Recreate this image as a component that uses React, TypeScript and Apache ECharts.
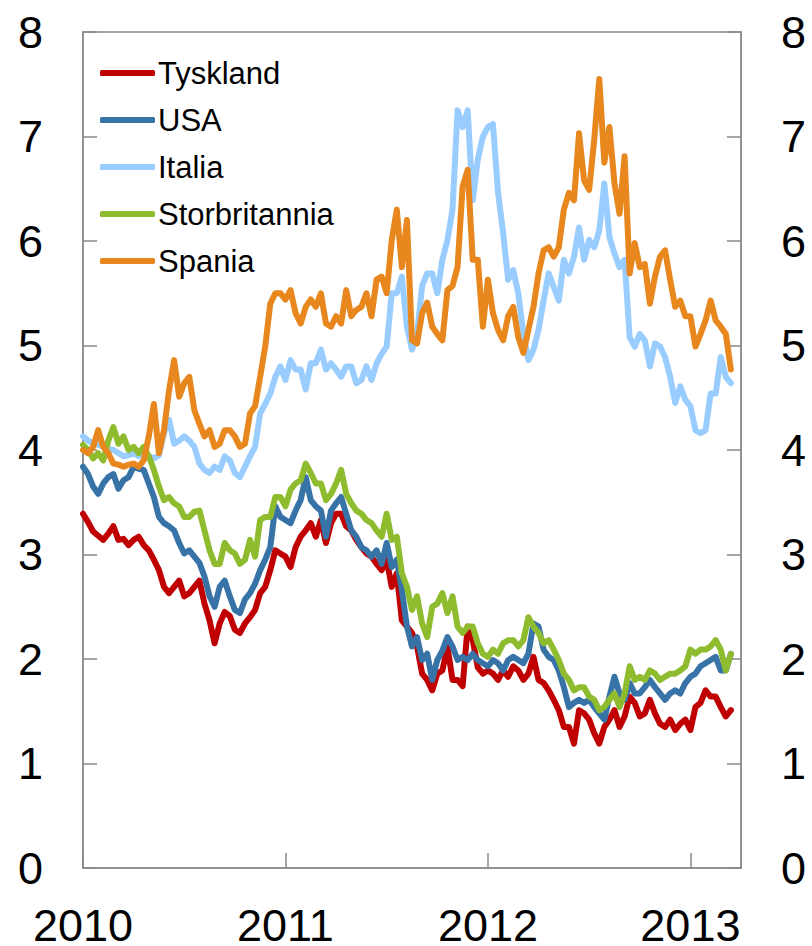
import React, { useEffect, useRef } from "react";
import * as echarts from "echarts";

// Sampling grid: one observation every STEP years starting at START_YEAR
const START_YEAR = 2010;
const STEP = 0.025;

const seriesNames = ["Tyskland", "USA", "Italia", "Storbritannia", "Spania"];
const seriesColors = ["#C00000", "#3873A8", "#99CCFF", "#8FBC2F", "#E8871E"];
const yTicks = [0, 1, 2, 3, 4, 5, 6, 7, 8];
const xTickYears = [2010, 2011, 2012, 2013];
const X_MAX = 2013.25;

const tyskland = [
  3.39, 3.31, 3.22, 3.18, 3.14, 3.20, 3.27, 3.14, 3.15, 3.09, 3.14, 3.17, 3.09, 3.04, 2.95, 2.85, 2.69, 2.63, 2.69, 2.75,
  2.60, 2.63, 2.69, 2.75, 2.53, 2.37, 2.15, 2.34, 2.45, 2.41, 2.28, 2.25, 2.34, 2.40, 2.47, 2.63, 2.69, 2.85, 3.04,
  3.01, 2.98, 2.88, 3.07, 3.17, 3.23, 3.30, 3.17, 3.33, 3.11, 3.30, 3.39, 3.39, 3.27, 3.23, 3.14, 3.07, 3.01, 2.98, 2.91,
  2.85, 2.95, 2.69, 2.82, 2.37, 2.31, 2.25, 2.12, 1.86, 1.80, 1.70, 1.86, 1.89, 2.12, 1.80, 1.80, 1.74, 2.31, 2.18, 1.92,
  1.86, 1.89, 1.86, 1.80, 1.89, 1.83, 1.93, 1.89, 1.80, 1.86, 2.02, 1.80, 1.77, 1.70, 1.61, 1.51, 1.35, 1.35, 1.19, 1.51,
  1.48, 1.42, 1.29, 1.19, 1.35, 1.42, 1.51, 1.35, 1.45, 1.64, 1.58, 1.45, 1.48, 1.61, 1.48, 1.38, 1.35, 1.42, 1.32, 1.38,
  1.42, 1.32, 1.54, 1.58, 1.70, 1.64, 1.64, 1.54, 1.45, 1.51,
];

const usa = [
  3.84, 3.77, 3.65, 3.58, 3.68, 3.74, 3.77, 3.63, 3.71, 3.74, 3.84, 3.82, 3.81, 3.68, 3.55, 3.36, 3.30, 3.27, 3.23, 3.11,
  3.01, 3.04, 2.98, 2.92, 2.79, 2.60, 2.50, 2.69, 2.75, 2.60, 2.47, 2.44, 2.57, 2.63, 2.72, 2.85, 2.95, 3.07, 3.46,
  3.36, 3.33, 3.30, 3.42, 3.52, 3.74, 3.52, 3.46, 3.42, 3.17, 3.42, 3.49, 3.55, 3.39, 3.23, 3.17, 3.07, 3.04, 2.98, 3.04,
  2.91, 3.11, 2.88, 2.95, 2.66, 2.31, 2.12, 2.21, 1.99, 2.05, 1.80, 1.99, 2.08, 2.21, 2.12, 1.99, 2.02, 1.99, 2.05, 1.99,
  1.96, 1.93, 1.99, 1.96, 1.89, 1.99, 2.02, 1.99, 1.96, 2.05, 2.34, 2.31, 2.09, 2.02, 1.99, 1.89, 1.73, 1.54, 1.58, 1.61,
  1.58, 1.61, 1.54, 1.48, 1.42, 1.64, 1.83, 1.67, 1.61, 1.77, 1.67, 1.67, 1.73, 1.80, 1.73, 1.67, 1.61, 1.67, 1.70, 1.67,
  1.77, 1.83, 1.86, 1.93, 1.96, 1.99, 2.02, 1.89, 1.89, 2.05,
];

const italia = [
  4.13, 4.09, 4.06, 4.05, 4.03, 4.01, 4.00, 3.97, 3.94, 3.95, 3.97, 3.94, 3.97, 3.94, 3.92, 3.95, 4.16, 4.29, 4.06, 4.09,
  4.13, 4.09, 4.03, 3.87, 3.81, 3.78, 3.84, 3.81, 3.94, 3.90, 3.78, 3.74, 3.84, 3.94, 4.03, 4.35, 4.44, 4.54, 4.70,
  4.80, 4.67, 4.86, 4.77, 4.77, 4.58, 4.83, 4.83, 4.96, 4.77, 4.83, 4.77, 4.70, 4.80, 4.80, 4.64, 4.67, 4.80, 4.67, 4.83,
  4.92, 4.99, 5.50, 5.50, 5.66, 5.18, 4.96, 5.11, 5.57, 5.69, 5.69, 5.50, 5.82, 6.01, 6.30, 7.25, 7.09, 7.25, 6.39, 6.78,
  7.00, 7.09, 7.12, 6.46,
  6.08, 5.63, 5.72, 5.50, 5.11, 4.86, 4.96, 5.15, 5.43, 5.69, 5.56, 5.43, 5.82, 5.69, 5.85, 6.13, 5.82, 6.01, 5.94, 6.10,
  6.55, 6.04, 5.88, 5.75, 5.82, 5.08, 4.99, 5.11, 5.05, 4.80, 5.02, 4.99, 4.89, 4.70, 4.45, 4.61, 4.48, 4.42, 4.19, 4.16,
  4.19, 4.54, 4.54, 4.89, 4.70, 4.64,
];

const storbritannia = [
  4.05, 4.00, 3.92, 3.97, 3.90, 4.09, 4.22, 4.06, 4.13, 4.00, 4.03, 3.97, 4.03, 3.94, 3.81, 3.65, 3.52, 3.55, 3.49, 3.46,
  3.36, 3.36, 3.41, 3.42, 3.23, 3.04, 2.91, 2.91, 3.11, 3.04, 3.01, 2.91, 2.95, 3.14, 2.98, 3.33, 3.36, 3.36, 3.55,
  3.55, 3.46, 3.62, 3.68, 3.71, 3.87, 3.78, 3.68, 3.68, 3.52, 3.58, 3.68, 3.81, 3.58, 3.49, 3.42, 3.39, 3.33, 3.30, 3.23,
  3.17, 3.39, 3.14, 3.17, 2.82, 2.69, 2.47, 2.60, 2.34, 2.21, 2.50, 2.53, 2.63, 2.44, 2.60, 2.31, 2.25, 2.31, 2.31, 2.15,
  2.05, 2.02, 2.09, 2.05, 2.15, 2.18, 2.18, 2.12, 2.18, 2.40, 2.31, 2.25, 2.15, 2.18, 2.09, 1.99, 1.86, 1.80, 1.70, 1.73,
  1.73, 1.64, 1.61, 1.51, 1.54, 1.61, 1.67, 1.54, 1.67, 1.93, 1.80, 1.83, 1.80, 1.89, 1.86, 1.80, 1.83, 1.86, 1.86, 1.89,
  1.93, 2.09, 2.05, 2.09, 2.09, 2.12, 2.18, 2.09, 1.89, 2.05,
];

const spania = [
  4.00, 3.97, 4.03, 4.19, 4.03, 3.97, 3.87, 3.86, 3.84, 3.86, 3.87, 3.84, 3.90, 4.13, 4.44, 3.97, 4.19, 4.57, 4.86, 4.51,
  4.64, 4.70, 4.38, 4.25, 4.13, 4.19, 4.03, 4.06, 4.19, 4.19, 4.13, 4.03, 4.06, 4.35, 4.42, 4.70, 4.99, 5.40, 5.50,
  5.50, 5.44, 5.53, 5.31, 5.21, 5.37, 5.44, 5.37, 5.50, 5.21, 5.18, 5.28, 5.21, 5.53, 5.28, 5.34, 5.37, 5.50, 5.28, 5.63,
  5.66, 5.50, 6.01, 6.30, 5.75, 6.20, 5.05, 5.02, 5.31, 5.41, 5.18, 5.11, 5.05, 5.53, 5.57, 5.75, 6.52, 6.68, 5.82, 5.82,
  5.18, 5.63, 5.31, 5.15,
  5.05, 5.28, 5.37, 5.08, 4.93, 5.15, 5.37, 5.69, 5.91, 5.94, 5.85, 5.94, 6.30, 6.46, 6.39, 7.03, 6.58, 6.49, 6.97, 7.55,
  6.75, 7.09, 6.55, 6.26, 6.81, 5.69, 5.98, 5.75, 5.78, 5.40, 5.66, 5.85, 5.91, 5.63, 5.37, 5.43, 5.28, 5.28, 4.99, 5.11,
  5.24, 5.43, 5.24, 5.18, 5.11, 4.77,
];

const seriesValues = [tyskland, usa, italia, storbritannia, spania];

const FONT = "'Liberation Sans', Arial, Helvetica, sans-serif";
const AXIS_GREY = "#8a8a8a";

export default function App() {
  const ref = useRef<HTMLDivElement>(null);

  useEffect(() => {
    if (!ref.current) return;
    const chart = echarts.init(ref.current, undefined, { renderer: "svg" });

    const yAxisCommon = {
      type: "value" as const,
      min: yTicks[0],
      max: yTicks[yTicks.length - 1],
      interval: 1,
      axisLine: { show: true, lineStyle: { color: AXIS_GREY, width: 1.5 } },
      axisTick: { show: true, inside: true, length: 14, lineStyle: { color: AXIS_GREY, width: 1.5 } },
      splitLine: { show: false },
      axisLabel: { color: "#000", fontSize: 45, fontFamily: FONT, margin: 40 },
    };

    chart.setOption({
      animation: false,
      backgroundColor: "#ffffff",
      grid: {
        left: 83,
        right: 71,
        top: 32,
        bottom: 78,
        show: true,
        borderColor: AXIS_GREY,
        borderWidth: 1.5,
        containLabel: false,
        outerBoundsMode: "none",
      },
      legend: {
        show: true,
        orient: "vertical",
        left: 95,
        top: 52,
        itemWidth: 55,
        itemHeight: 6,
        itemGap: 15,
        icon: "roundRect",
        selectedMode: false,
        data: seriesNames,
        textStyle: { color: "#000", fontSize: 31, fontFamily: FONT, lineHeight: 32, padding: [0, 0, 0, -2] },
      },
      xAxis: {
        type: "value",
        min: xTickYears[0],
        max: X_MAX,
        interval: 1,
        axisLine: { show: true, onZero: false, lineStyle: { color: AXIS_GREY, width: 1.5 } },
        axisTick: { show: true, inside: true, length: 15, lineStyle: { color: AXIS_GREY, width: 1.5 } },
        splitLine: { show: false },
        axisLabel: {
          color: "#000",
          fontSize: 45,
          fontFamily: FONT,
          margin: 35,
          showMaxLabel: false,
          formatter: (v: number) => (xTickYears.includes(Math.round(v * 1000) / 1000) ? String(v) : ""),
        },
      },
      yAxis: [
        { ...yAxisCommon, position: "left" },
        { ...yAxisCommon, position: "right" },
      ],
      series: seriesNames.map((name, i) => ({
        name,
        type: "line",
        yAxisIndex: 0,
        color: seriesColors[i],
        symbol: "none",
        showSymbol: false,
        smooth: false,
        lineStyle: { color: seriesColors[i], width: 6, cap: "round", join: "round" },
        itemStyle: { color: seriesColors[i] },
        data: seriesValues[i].map((v, k) => [START_YEAR + k * STEP, v]),
      })),
    });

    return () => chart.dispose();
  }, []);

  return (
    <div
      ref={ref}
      style={{ position: "fixed", left: 0, top: 0, width: 812, height: 946, background: "#fff" }}
    />
  );
}
